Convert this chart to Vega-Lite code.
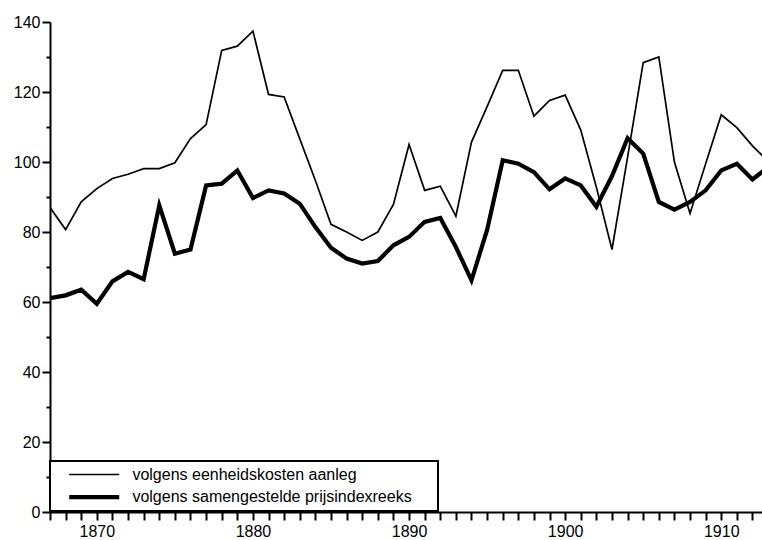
{
  "$schema": "https://vega.github.io/schema/vega-lite/v6.json",
  "width": 712,
  "height": 490,
  "autosize": {"type": "none"},
  "padding": {"left": 50, "top": 22, "right": 0, "bottom": 28},
  "background": "white",
  "config": {"view": {"stroke": null}, "font": "Liberation Sans, Arial, sans-serif"},
  "datasets": {
    "thin": [
      {"year": 1867, "value": 87.0}, {"year": 1868, "value": 80.7}, {"year": 1869, "value": 88.6}, {"year": 1870, "value": 92.4},
      {"year": 1871, "value": 95.3}, {"year": 1872, "value": 96.5}, {"year": 1873, "value": 98.1}, {"year": 1874, "value": 98.1},
      {"year": 1875, "value": 99.8}, {"year": 1876, "value": 106.7}, {"year": 1877, "value": 110.7}, {"year": 1878, "value": 131.9},
      {"year": 1879, "value": 133.1}, {"year": 1880, "value": 137.4}, {"year": 1881, "value": 119.3}, {"year": 1882, "value": 118.6},
      {"year": 1883, "value": 106.6}, {"year": 1884, "value": 94.7}, {"year": 1885, "value": 82.2}, {"year": 1886, "value": 80.0},
      {"year": 1887, "value": 77.6}, {"year": 1888, "value": 80.0}, {"year": 1889, "value": 87.9}, {"year": 1890, "value": 105.0},
      {"year": 1891, "value": 91.9}, {"year": 1892, "value": 93.1}, {"year": 1893, "value": 84.5}, {"year": 1894, "value": 105.7},
      {"year": 1895, "value": 115.8}, {"year": 1896, "value": 126.2}, {"year": 1897, "value": 126.2}, {"year": 1898, "value": 113.1},
      {"year": 1899, "value": 117.6}, {"year": 1900, "value": 119.1}, {"year": 1901, "value": 109.1}, {"year": 1902, "value": 92.8},
      {"year": 1903, "value": 75.0}, {"year": 1904, "value": 101.4}, {"year": 1905, "value": 128.4}, {"year": 1906, "value": 130.0},
      {"year": 1907, "value": 100.0}, {"year": 1908, "value": 85.3}, {"year": 1909, "value": 99.5}, {"year": 1910, "value": 113.5},
      {"year": 1911, "value": 109.8}, {"year": 1912, "value": 104.6}, {"year": 1913, "value": 100.2}
    ],
    "thick": [
      {"year": 1867, "value": 61.1}, {"year": 1868, "value": 61.9}, {"year": 1869, "value": 63.5}, {"year": 1870, "value": 59.5},
      {"year": 1871, "value": 65.9}, {"year": 1872, "value": 68.6}, {"year": 1873, "value": 66.5}, {"year": 1874, "value": 87.6},
      {"year": 1875, "value": 73.8}, {"year": 1876, "value": 75.0}, {"year": 1877, "value": 93.3}, {"year": 1878, "value": 93.8},
      {"year": 1879, "value": 97.6}, {"year": 1880, "value": 89.7}, {"year": 1881, "value": 91.9}, {"year": 1882, "value": 91.0},
      {"year": 1883, "value": 88.1}, {"year": 1884, "value": 81.4}, {"year": 1885, "value": 75.5}, {"year": 1886, "value": 72.4},
      {"year": 1887, "value": 71.0}, {"year": 1888, "value": 71.7}, {"year": 1889, "value": 76.2}, {"year": 1890, "value": 78.6},
      {"year": 1891, "value": 82.9}, {"year": 1892, "value": 84.0}, {"year": 1893, "value": 75.7}, {"year": 1894, "value": 66.2},
      {"year": 1895, "value": 80.6}, {"year": 1896, "value": 100.5}, {"year": 1897, "value": 99.5}, {"year": 1898, "value": 97.1},
      {"year": 1899, "value": 92.2}, {"year": 1900, "value": 95.3}, {"year": 1901, "value": 93.3}, {"year": 1902, "value": 87.2},
      {"year": 1903, "value": 96.0}, {"year": 1904, "value": 106.8}, {"year": 1905, "value": 102.4}, {"year": 1906, "value": 88.6},
      {"year": 1907, "value": 86.4}, {"year": 1908, "value": 88.6}, {"year": 1909, "value": 91.9}, {"year": 1910, "value": 97.6},
      {"year": 1911, "value": 99.5}, {"year": 1912, "value": 95.0}, {"year": 1913, "value": 98.5}
    ]
  },
  "layer": [
    {
      "data": {"name": "thin"},
      "transform": [{"calculate": "'volgens eenheidskosten aanleg'", "as": "series"}],
      "mark": {"type": "line", "color": "black", "clip": true}
    },
    {
      "data": {"name": "thick"},
      "transform": [{"calculate": "'volgens samengestelde prijsindexreeks'", "as": "series"}],
      "mark": {"type": "line", "color": "black", "clip": true}
    }
  ],
  "encoding": {
    "x": {
      "field": "year", "type": "quantitative",
      "scale": {"domain": [1867, 1912.61], "nice": false, "zero": false},
      "axis": {
        "title": null, "grid": false,
        "values": [1867,1868,1869,1870,1871,1872,1873,1874,1875,1876,1877,1878,1879,1880,1881,1882,1883,1884,1885,1886,1887,1888,1889,1890,1891,1892,1893,1894,1895,1896,1897,1898,1899,1900,1901,1902,1903,1904,1905,1906,1907,1908,1909,1910,1911,1912],
        "format": "d",
        "labelExpr": "datum.value % 10 === 0 ? datum.label : ''",
        "labelOverlap": false, "labelFlush": false, "labelBound": false,
        "tickSize": 8, "tickWidth": 2, "tickColor": "black",
        "domainColor": "black", "domainWidth": 2,
        "labelFontSize": 16, "labelColor": "black", "labelPadding": 3
      }
    },
    "y": {
      "field": "value", "type": "quantitative",
      "scale": {"domain": [0, 140], "nice": false},
      "axis": {
        "title": null, "grid": false,
        "values": [0,10,20,30,40,50,60,70,80,90,100,110,120,130,140],
        "labelExpr": "datum.value % 20 === 0 ? datum.label : ''",
        "labelOverlap": false, "labelFlush": false,
        "tickSize": {"condition": {"test": "datum.value % 20 === 0", "value": 8}, "value": 4},
        "tickWidth": 2, "tickColor": "black",
        "domainColor": "black", "domainWidth": 2,
        "labelFontSize": 16, "labelColor": "black", "labelPadding": 2
      }
    },
    "strokeWidth": {
      "field": "series", "type": "nominal",
      "scale": {"type": "ordinal", "domain": ["volgens eenheidskosten aanleg", "volgens samengestelde prijsindexreeks"], "range": [1.7, 4.2]},
      "legend": {
        "title": null, "orient": "none", "legendX": 0, "legendY": 439,
        "symbolType": "stroke", "symbolSize": 2500, "symbolStrokeColor": "black",
        "clipHeight": 17, "rowPadding": 5.7, "padding": 5,
        "symbolOffset": 11.7, "labelOffset": 10.7,
        "labelFontSize": 16, "labelColor": "black", "labelLimit": 600,
        "labelExpr": "datum.label + '\u00a0\u00a0\u2800'",
        "strokeColor": "black", "fillColor": "white",
        "encode": {"legend": {"update": {"strokeWidth": {"value": 2}}}}
      }
    }
  }
}
